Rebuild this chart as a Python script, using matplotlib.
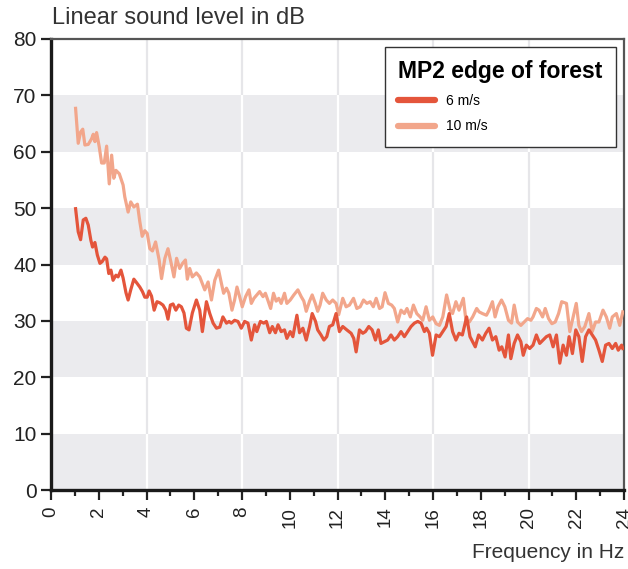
import matplotlib
matplotlib.use("Agg")
import matplotlib.pyplot as plt
from matplotlib.lines import Line2D

plt.rcParams['font.family'] = ['Liberation Sans', 'DejaVu Sans']

# ---- data ----
freq_10 = [1.03, 1.14, 1.24, 1.33, 1.42, 1.56, 1.70, 1.77, 1.84, 1.91, 2.02, 2.12, 2.23, 2.33, 2.44, 2.54,
           2.63, 2.72, 2.86, 3.02, 3.09, 3.23, 3.34, 3.47, 3.62, 3.72, 3.82, 3.93, 4.03, 4.14, 4.25, 4.38,
           4.53, 4.63, 4.77, 4.90, 5.05, 5.15, 5.26, 5.39, 5.51, 5.63, 5.71, 5.81, 5.92, 6.09, 6.23, 6.44,
           6.58, 6.72, 6.86, 7.02, 7.14, 7.23, 7.35, 7.45, 7.58, 7.69, 7.79, 7.90, 8.01, 8.15, 8.29, 8.39,
           8.50, 8.62, 8.74, 8.88, 8.98, 9.08, 9.20, 9.32, 9.43, 9.54, 9.64, 9.78, 9.88, 10.02, 10.17, 10.34,
           10.48, 10.59, 10.69, 10.83, 10.94, 11.07, 11.17, 11.27, 11.38, 11.53, 11.66, 11.80, 11.94, 12.05,
           12.22, 12.36, 12.50, 12.67, 12.81, 12.95, 13.09, 13.23, 13.37, 13.50, 13.62, 13.76, 13.87, 13.99,
           14.13, 14.27, 14.38, 14.52, 14.66, 14.80, 14.91, 15.05, 15.18, 15.32, 15.46, 15.57, 15.71, 15.85,
           15.99, 16.13, 16.27, 16.41, 16.57, 16.72, 16.82, 16.96, 17.09, 17.27, 17.38, 17.52, 17.66, 17.83,
           17.93, 18.07, 18.24, 18.35, 18.49, 18.60, 18.72, 18.87, 19.01, 19.16, 19.29, 19.40, 19.54, 19.68,
           19.82, 19.96, 20.10, 20.19, 20.33, 20.44, 20.59, 20.70, 20.84, 20.98, 21.12, 21.26, 21.39, 21.59,
           21.73, 21.87, 22.00, 22.11, 22.22, 22.36, 22.53, 22.67, 22.81, 22.95, 23.12, 23.26, 23.40, 23.51,
           23.68, 23.82, 23.95]
level_10 = [67.7, 61.5, 63.5, 64.0, 61.2, 61.3, 62.3, 63.1, 61.8, 63.4, 60.9, 58.0, 58.0, 61.0, 54.3, 59.4,
            55.3, 56.7, 56.1, 54.1, 52.0, 49.3, 51.1, 50.2, 50.7, 47.6, 45.0, 46.0, 45.5, 42.8, 42.4, 44.0,
            40.8, 37.5, 41.1, 42.8, 39.9, 37.8, 41.1, 39.3, 40.2, 40.8, 37.4, 39.3, 37.8, 38.5, 37.8, 35.5,
            36.9, 33.7, 37.2, 39.0, 36.6, 34.9, 35.8, 34.9, 31.9, 33.7, 36.0, 34.3, 32.5, 34.3, 35.5, 33.1,
            34.0, 34.6, 35.2, 34.3, 34.9, 33.7, 32.2, 34.9, 33.5, 34.0, 33.1, 34.9, 33.1, 33.7, 34.6, 35.5,
            34.3, 33.5, 31.7, 33.5, 34.6, 33.1, 31.7, 32.8, 34.9, 33.7, 33.1, 33.7, 33.1, 31.1,
            34.0, 32.5, 32.8, 34.0, 32.2, 32.5, 33.7, 33.1, 33.4, 32.5, 34.0, 32.2, 32.5, 35.0,
            33.1, 32.8, 32.2, 29.8, 31.9, 31.3, 32.2, 30.7, 32.8, 31.3, 30.7, 30.1, 32.5, 30.1,
            30.7, 29.5, 29.2, 30.7, 34.6, 31.9, 31.3, 33.4, 31.9, 34.0, 30.1, 29.8, 30.7, 32.2,
            31.6, 31.3, 31.0, 31.9, 33.4, 30.7, 32.5, 33.7, 32.5, 30.1, 29.6, 32.8, 29.8, 29.2,
            29.8, 30.4, 30.1, 30.7, 32.2, 31.9, 30.7, 32.2, 30.4, 29.5, 29.8, 31.3, 33.4, 33.1,
            28.1, 30.7, 33.1, 29.2, 28.1, 29.0, 31.3, 28.1, 29.8, 29.8, 31.9, 30.7, 28.7, 30.7,
            31.3, 29.2, 31.6]

freq_6 = [1.03, 1.14, 1.24, 1.35, 1.46, 1.56, 1.67, 1.74, 1.84, 1.94, 2.05, 2.14, 2.26, 2.33, 2.42, 2.51,
          2.60, 2.72, 2.81, 2.93, 3.02, 3.14, 3.23, 3.34, 3.47, 3.58, 3.72, 3.83, 3.93, 4.03, 4.11, 4.21,
          4.32, 4.44, 4.56, 4.69, 4.81, 4.90, 5.00, 5.11, 5.23, 5.35, 5.46, 5.57, 5.67, 5.78, 5.92, 6.09,
          6.23, 6.34, 6.51, 6.65, 6.79, 6.93, 7.07, 7.20, 7.35, 7.46, 7.55, 7.69, 7.83, 7.97, 8.11, 8.25,
          8.39, 8.53, 8.62, 8.77, 8.91, 9.02, 9.16, 9.27, 9.40, 9.51, 9.64, 9.78, 9.88, 10.02, 10.13, 10.30,
          10.41, 10.55, 10.69, 10.83, 10.94, 11.08, 11.17, 11.31, 11.43, 11.55, 11.66, 11.80, 11.94,
          12.08, 12.22, 12.39, 12.57, 12.68, 12.78, 12.92, 13.06, 13.17, 13.31, 13.45, 13.59, 13.71, 13.82,
          13.96, 14.10, 14.24, 14.38, 14.52, 14.66, 14.80, 14.94, 15.08, 15.22, 15.36, 15.50, 15.64, 15.73,
          15.85, 15.98, 16.13, 16.27, 16.41, 16.55, 16.68, 16.82, 16.96, 17.09, 17.23, 17.41, 17.55, 17.66,
          17.77, 17.91, 18.07, 18.21, 18.35, 18.49, 18.63, 18.77, 18.88, 19.02, 19.16, 19.26, 19.40, 19.54,
          19.68, 19.78, 19.91, 20.05, 20.19, 20.33, 20.47, 20.61, 20.75, 20.89, 21.03, 21.17, 21.31, 21.45,
          21.59, 21.70, 21.84, 21.98, 22.11, 22.25, 22.39, 22.53, 22.67, 22.81, 22.95, 23.09, 23.23, 23.37,
          23.51, 23.65, 23.76, 23.90, 23.95]
level_6 = [49.9, 45.8, 44.4, 47.9, 48.2, 47.0, 44.3, 43.1, 43.9, 41.7, 40.2, 40.5, 41.3, 41.0, 38.4, 39.0,
           37.2, 38.1, 37.8, 39.0, 37.6, 35.0, 33.7, 35.5, 37.4, 36.8, 36.0, 35.2, 34.2, 34.2, 35.3, 34.4,
           31.9, 33.4, 33.2, 32.8, 31.9, 30.3, 32.8, 33.0, 31.9, 32.8, 32.5, 31.4, 28.7, 28.4, 31.4, 33.7,
           31.9, 28.1, 33.4, 31.3, 29.6, 28.7, 28.9, 30.7, 29.6, 29.9, 29.6, 30.1, 29.9, 28.7, 29.9, 29.6,
           26.6, 29.3, 28.1, 29.9, 29.6, 29.9, 27.9, 29.0, 27.9, 29.3, 28.1, 28.4, 26.9, 28.1, 27.2, 31.0,
           27.9, 28.7, 26.6, 29.0, 31.3, 29.9, 28.4, 27.5, 26.6, 27.2, 29.0, 29.3, 31.3,
           28.1, 29.0, 28.4, 27.8, 26.9, 24.5, 28.4, 27.8, 28.1, 29.0, 28.4, 26.6, 28.4, 26.0,
           26.3, 26.6, 27.5, 26.6, 27.2, 28.1, 27.2, 28.1, 29.0, 29.6, 29.9, 29.6, 28.1, 28.7,
           27.8, 23.9, 27.5, 27.2, 28.1, 29.0, 31.3, 28.1, 26.6, 27.8, 27.5, 30.7, 27.2, 26.3,
           25.4, 27.5, 26.6, 27.8, 28.7, 26.6, 27.2, 24.8, 25.4, 23.6, 27.5, 23.3, 26.0, 27.5,
           26.3, 23.9, 25.7, 25.1, 25.7, 27.5, 26.0, 26.6, 27.2, 27.5, 25.4, 27.5, 22.5, 25.7,
           23.9, 27.2, 24.2, 28.4, 27.2, 22.8, 27.2, 28.4, 27.5, 26.6, 24.8, 22.8, 25.7, 26.0,
           25.1, 26.0, 24.8, 25.7, 25.1]

series_labels = ['6 m/s', '10 m/s']
legend_title = 'MP2 edge of forest'
y_ticks = [0, 10, 20, 30, 40, 50, 60, 70, 80]
x_ticks = [0, 2, 4, 6, 8, 10, 12, 14, 16, 18, 20, 22, 24]
x_minor = list(range(0, 25))
x_grid = [4, 8, 12, 16, 20]
gray_bands = [(0, 10), (20, 30), (40, 50), (60, 70)]
white_bands = [(10, 20), (30, 40), (50, 60), (70, 80)]

c6 = '#e4553b'
c10 = '#f2a68b'
band_col = '#ebebee'
grid_col = '#e6e6e9'

fig = plt.figure(figsize=(6.28, 5.69), dpi=100)
ax = fig.add_axes([51/628, 79/569, 573/628, 451/569])

ax.set_xlim(0, 24)
ax.set_ylim(0, 80)

for lo, hi in gray_bands:
    ax.axhspan(lo, hi, color=band_col, lw=0, zorder=0)
    ax.vlines(x_grid, lo, hi, colors='white', lw=1.6, zorder=0.5)
for lo, hi in white_bands:
    ax.vlines(x_grid, lo, hi, colors=grid_col, lw=1.6, zorder=0.5)

ax.plot(freq_10, level_10, color=c10, lw=2.3, solid_joinstyle='round', zorder=3)
ax.plot(freq_6, level_6, color=c6, lw=2.3, solid_joinstyle='round', zorder=4)

ax.set_yticks(y_ticks)
ax.set_xticks(x_ticks)
ax.set_xticks(x_minor, minor=True)
ax.tick_params(axis='y', direction='out', length=7, width=1.6, labelsize=15, pad=3.5, colors='#222222')
ax.tick_params(axis='x', which='major', direction='out', length=7.5, width=1.6, labelsize=13.5, pad=4.5,
               labelrotation=90, colors='#222222')
ax.tick_params(axis='x', which='minor', direction='out', length=4, width=1.6, colors='#222222')

for s in ['left', 'bottom']:
    ax.spines[s].set_linewidth(2.4)
    ax.spines[s].set_color('#1a1a1a')
for s in ['top', 'right']:
    ax.spines[s].set_linewidth(1.6)
    ax.spines[s].set_color('#555555')

fig.text(52/628, 1 - 18/569, 'Linear sound level in dB', fontsize=17, color='#333333',
         ha='left', va='center')
fig.text(624/628, 1 - 553/569, 'Frequency in Hz', fontsize=15, color='#333333',
         ha='right', va='center')

handles = [Line2D([], [], color=c6, lw=4.5, solid_capstyle='round'),
           Line2D([], [], color=c10, lw=4.5, solid_capstyle='round')]
leg = ax.legend(handles, series_labels, title=legend_title, loc='upper right',
                bbox_to_anchor=(616/628, 1 - 47/569), bbox_transform=fig.transFigure,
                fancybox=False, frameon=True, edgecolor='#333333', framealpha=1,
                fontsize=10, title_fontproperties={'weight': 'bold', 'size': 16.5},
                alignment='left', handlelength=2.6, handletextpad=0.8, labelspacing=0.8,
                borderpad=0.95, borderaxespad=0)
leg.get_frame().set_linewidth(1.0)
leg.set_zorder(10)

fig.savefig('out.png', dpi=100)
